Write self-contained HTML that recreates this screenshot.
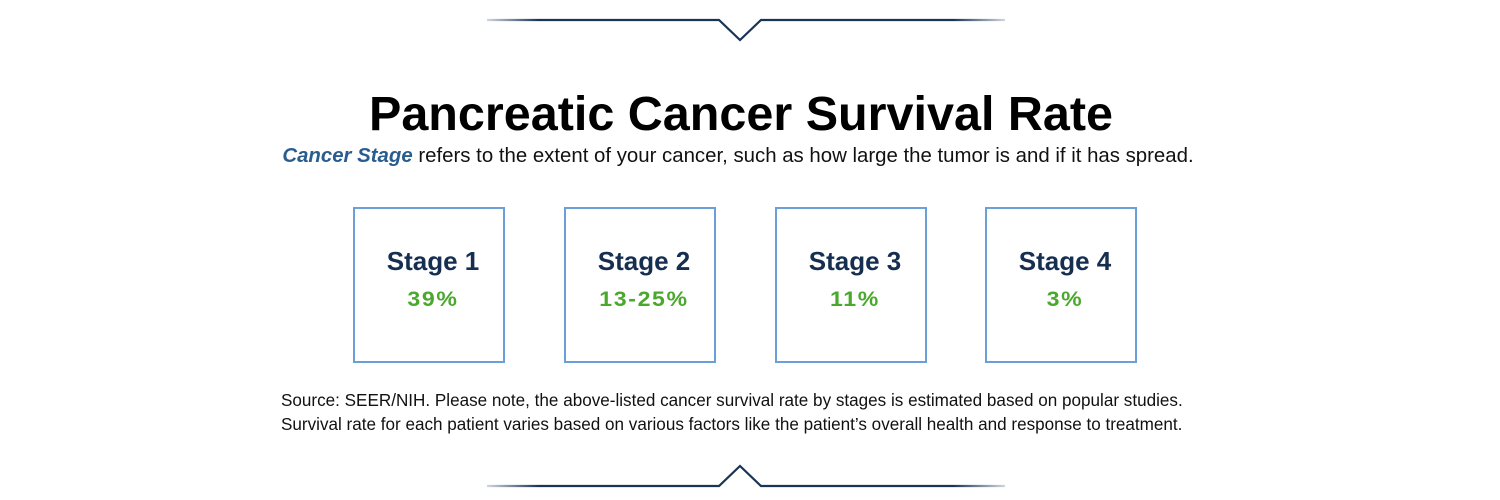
<!DOCTYPE html>
<html><head><style>
body{margin:0;width:1500px;height:500px;background:#fff;position:relative;overflow:hidden;font-family:"Liberation Sans",sans-serif;}
.t{position:absolute;left:0;width:1500px;text-align:center;}
.box{position:absolute;top:207px;width:148px;height:152px;border:2.5px solid #6a9fd8;}
.box .s{position:absolute;top:37px;left:4px;width:100%;text-align:center;font-size:26px;font-weight:bold;color:#162f50;}
.box .p{position:absolute;top:79px;left:4px;width:100%;text-align:center;font-size:21px;font-weight:bold;color:#4aa82c;letter-spacing:1.5px;transform:scaleX(1.1);}
</style></head><body>
<svg width="1500" height="500" style="position:absolute;left:0;top:0">
<defs><linearGradient id="g" x1="0" x2="1"><stop offset="0" stop-color="#1a3456" stop-opacity="0.2"/><stop offset="0.1" stop-color="#1a3456"/><stop offset="0.9" stop-color="#1a3456"/><stop offset="1" stop-color="#1a3456" stop-opacity="0.2"/></linearGradient></defs>
<polyline points="487,20 719,20 740,40 761,20 1005,20" fill="none" stroke="url(#g)" stroke-width="2.2"/>
<polyline points="487,486 719,486 740,466 761,486 1005,486" fill="none" stroke="url(#g)" stroke-width="2.2"/>
</svg>
<div class="t" style="top:86px;left:-9px;font-size:48.5px;font-weight:bold;color:#000;">Pancreatic Cancer Survival Rate</div>
<div class="t" style="top:145px;left:-12px;font-size:20.4px;color:#111;"><b><i style="color:#2a5d8f">Cancer Stage</i></b> refers to the extent of your cancer, such as how large the tumor is and if it has spread.</div>
<div class="box" style="left:353px"><div class="s">Stage 1</div><div class="p">39%</div></div>
<div class="box" style="left:564px"><div class="s">Stage 2</div><div class="p">13-25%</div></div>
<div class="box" style="left:775px"><div class="s">Stage 3</div><div class="p">11%</div></div>
<div class="box" style="left:985px"><div class="s">Stage 4</div><div class="p">3%</div></div>
<div style="position:absolute;left:281px;top:389px;font-size:17.1px;line-height:24px;color:#111;white-space:nowrap;">Source: SEER/NIH. Please note, the above-listed cancer survival rate by stages is estimated based on popular studies.<br>Survival rate for each patient varies based on various factors like the patient’s overall health and response to treatment.</div>
</body></html>
